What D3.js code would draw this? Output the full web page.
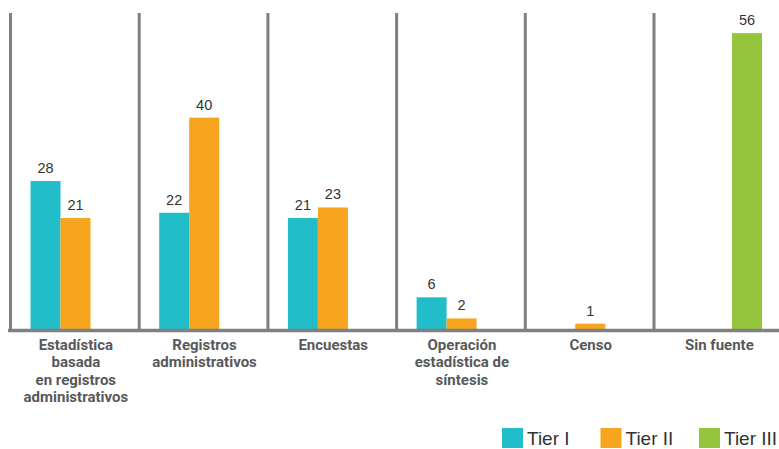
<!DOCTYPE html>
<html>
<head>
<meta charset="utf-8">
<script src="https://cdn.jsdelivr.net/npm/d3@7"></script>
<style>
  body { margin: 0; background: #fff; overflow: hidden; }
  svg { display: block; }
</style>
</head>
<body>
<svg></svg>
<script>
var categories = [
    ["Estadística", "basada", "en registros", "administrativos"],
    ["Registros", "administrativos"],
    ["Encuestas"],
    ["Operación", "estadística de", "síntesis"],
    ["Censo"],
    ["Sin fuente"]
];
var series = ["Tier I", "Tier II", "Tier III"];
var tier1 = [28, 22, 21, 6, null, null];
var tier2 = [21, 40, 23, 2, 1, null];
var tier3 = [null, null, null, null, null, 56];
var colors = ["#21bdc8", "#f7a51e", "#95c53d"];

var width = 779, height = 449,
    svg = d3.select("svg").attr("width", width).attr("height", height),
    gridColor = "#808083";

var catIdx = d3.range(categories.length);
var x = d3.scaleBand().domain(catIdx).range([10.5, 10.5 + 6 * 128.7]);
var xs = d3.scaleBand().domain(series).range([20, 110]);
var y = d3.scaleLinear().domain([0, 60]).range([329, 12]);

var rows = [tier1, tier2, tier3];

// separators
svg.append("g").selectAll("line")
    .data(catIdx)
    .enter().append("line")
    .attr("x1", function(d) { return x(d); })
    .attr("x2", function(d) { return x(d); })
    .attr("y1", 13)
    .attr("y2", y(0))
    .style("stroke", gridColor)
    .style("stroke-width", 3);

// bars
var cat = svg.append("g").selectAll("g")
    .data(catIdx)
    .enter().append("g")
    .attr("transform", function(d) { return "translate(" + x(d) + ",0)"; });

var pts = cat.selectAll("g")
    .data(function(c) {
        return series.map(function(s, i) { return {s: s, i: i, v: rows[i][c]}; })
            .filter(function(d) { return d.v != null; });
    })
    .enter().append("g");

pts.append("rect")
    .attr("x", function(d) { return xs(d.s) - (d.i == 2 ? 2 : 0); })
    .attr("width", xs.bandwidth())
    .attr("y", function(d) { return y(d.v); })
    .attr("height", function(d) { return y(0) - y(d.v); })
    .style("fill", function(d) { return colors[d.i]; });

pts.append("text")
    .attr("x", function(d) { return xs(d.s) + xs.bandwidth() / 2 - (d.i == 2 ? 2 : 0); })
    .attr("y", function(d) { return y(d.v) - 8; })
    .attr("text-anchor", "middle")
    .style("font-family", "'Liberation Sans', Arial, sans-serif")
    .style("font-size", "14.5px")
    .style("fill", "#333")
    .text(function(d) { return d.v; });

// baseline
svg.append("line")
    .attr("x1", 8).attr("x2", width)
    .attr("y1", y(0) + 1.5).attr("y2", y(0) + 1.5)
    .style("stroke", gridColor)
    .style("stroke-width", 3.5);

// category labels
cat.append("text")
    .attr("text-anchor", "middle")
    .style("font-family", "Roboto, sans-serif")
    .style("font-weight", "700")
    .style("font-size", "15px")
    .style("fill", "#58595b")
    .selectAll("tspan")
    .data(function(c) { return categories[c]; })
    .enter().append("tspan")
    .attr("x", x.bandwidth() / 2 + 1)
    .attr("y", function(d, i) { return 350 + i * 17.4; })
    .text(function(d) { return d; });

// legend
var legend = svg.append("g").selectAll("g")
    .data(series)
    .enter().append("g")
    .attr("transform", function(d, i) { return "translate(" + (502 + i * 98.5) + ",428)"; });

legend.append("rect")
    .attr("width", 21)
    .attr("height", 20)
    .style("fill", function(d, i) { return colors[i]; });

legend.append("text")
    .attr("x", 25)
    .attr("y", 17)
    .style("font-family", "'Liberation Sans', Arial, sans-serif")
    .style("font-size", "19px")
    .style("fill", "#333")
    .text(function(d) { return d; });
</script>
</body>
</html>
